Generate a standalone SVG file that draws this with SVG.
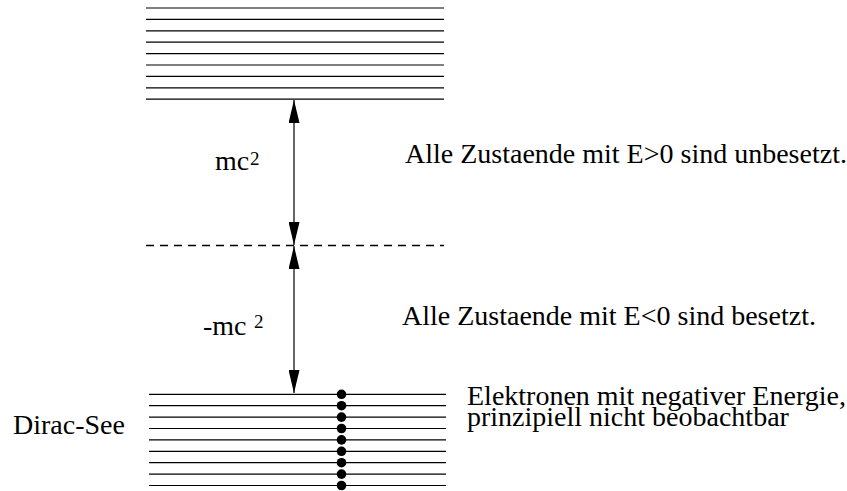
<svg xmlns="http://www.w3.org/2000/svg" width="847" height="491" viewBox="0 0 847 491">
<defs>
<style>
.lv{stroke:#000;stroke-width:1.2}
.dot{fill:#000}
</style>
<marker id="ah" viewBox="0 0 23 11" refX="23" refY="5.5" markerWidth="23" markerHeight="11" markerUnits="userSpaceOnUse" orient="auto-start-reverse">
<path d="M0,0 L23,5.5 L0,11 Z" fill="#000"/>
</marker>
</defs>
<rect width="847" height="491" fill="#fff"/>
<g id="positive-levels">
<line class="lv" x1="146" y1="8" x2="444" y2="8"/>
<line class="lv" x1="146" y1="19.4" x2="444" y2="19.4"/>
<line class="lv" x1="146" y1="30.8" x2="444" y2="30.8"/>
<line class="lv" x1="146" y1="42.2" x2="444" y2="42.2"/>
<line class="lv" x1="146" y1="53.6" x2="444" y2="53.6"/>
<line class="lv" x1="146" y1="65" x2="444" y2="65"/>
<line class="lv" x1="146" y1="76.4" x2="444" y2="76.4"/>
<line class="lv" x1="146" y1="87.8" x2="444" y2="87.8"/>
<line class="lv" x1="146" y1="99.2" x2="444" y2="99.2"/>
</g>
<g id="zero-level">
<line x1="146" y1="245.5" x2="444" y2="245.5" stroke="#000" stroke-width="1.5" stroke-dasharray="8,6"/>
</g>
<g id="dirac-sea">
<line class="lv" x1="149" y1="394.3" x2="446" y2="394.3"/>
<line class="lv" x1="149" y1="405.7" x2="446" y2="405.7"/>
<line class="lv" x1="149" y1="417.1" x2="446" y2="417.1"/>
<line class="lv" x1="149" y1="428.5" x2="446" y2="428.5"/>
<line class="lv" x1="149" y1="439.9" x2="446" y2="439.9"/>
<line class="lv" x1="149" y1="451.3" x2="446" y2="451.3"/>
<line class="lv" x1="149" y1="462.7" x2="446" y2="462.7"/>
<line class="lv" x1="149" y1="474.1" x2="446" y2="474.1"/>
<line class="lv" x1="149" y1="485.5" x2="446" y2="485.5"/>
<circle class="dot" cx="341.5" cy="394.3" r="4.8"/>
<circle class="dot" cx="341.5" cy="405.7" r="4.8"/>
<circle class="dot" cx="341.5" cy="417.1" r="4.8"/>
<circle class="dot" cx="341.5" cy="428.5" r="4.8"/>
<circle class="dot" cx="341.5" cy="439.9" r="4.8"/>
<circle class="dot" cx="341.5" cy="451.3" r="4.8"/>
<circle class="dot" cx="341.5" cy="462.7" r="4.8"/>
<circle class="dot" cx="341.5" cy="474.1" r="4.8"/>
<circle class="dot" cx="341.5" cy="485.5" r="4.8"/>
</g>
<g id="connectors">
<line x1="294" y1="100" x2="294" y2="245" stroke="#000" stroke-width="1.2" marker-start="url(#ah)" marker-end="url(#ah)"/>
<line x1="294" y1="246" x2="294" y2="393" stroke="#000" stroke-width="1.2" marker-start="url(#ah)" marker-end="url(#ah)"/>
</g>
<g id="labels" font-family="'Liberation Serif', serif" font-size="28" fill="#000">
<text x="215" y="170">mc</text><text x="250" y="165" font-size="19">2</text>
<text x="203" y="335">-mc</text><text x="254" y="328" font-size="19">2</text>
<text x="405" y="163">Alle Zustaende mit E&gt;0 sind unbesetzt.</text>
<text x="402" y="325">Alle Zustaende mit E&lt;0 sind besetzt.</text>
<text x="467" y="405">Elektronen mit negativer Energie,</text>
<text x="467" y="426">prinzipiell nicht beobachtbar</text>
<text x="13" y="434">Dirac-See</text>
</g>
</svg>
